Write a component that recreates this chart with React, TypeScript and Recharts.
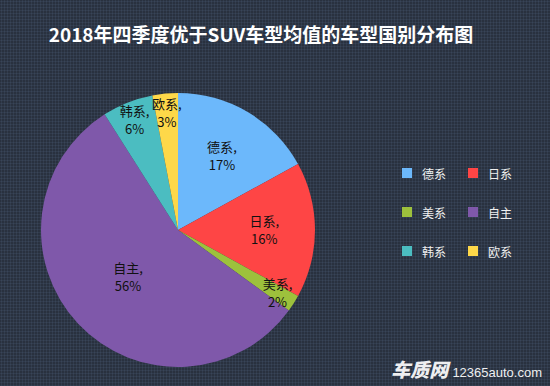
import React from "react";
import { PieChart, Pie, Cell } from "recharts";

const categories = ["德系", "日系", "美系", "自主", "韩系", "欧系"];
const shares = [17, 16, 2, 56, 6, 3];
const colors = ["#6cb8fb", "#fe4545", "#9dc13c", "#7f58aa", "#4bbdc1", "#fed849"];
const title = "2018年四季度优于SUV车型均值的车型国别分布图";

const data = categories.map((name, i) => ({ name, value: shares[i] }));

const RADIAN = Math.PI / 180;

const renderLabel = (props: any) => {
  const { cx, cy, midAngle, outerRadius, name, value } = props;
  const f = value >= 50 ? 0.5 : value >= 10 ? 0.63 : 0.86;
  const r = outerRadius * f;
  const x = cx + r * Math.cos(-midAngle * RADIAN);
  const y = cy + r * Math.sin(-midAngle * RADIAN);
  return (
    <text
      x={x}
      y={y}
      textAnchor="middle"
      fill="#111"
      fontSize={13}
      fontFamily="'Noto Sans CJK SC', sans-serif"
    >
      <tspan x={x} dy={-4}>{name},</tspan>
      <tspan x={x} dy={18}>{value}%</tspan>
    </text>
  );
};

export default function App() {
  return (
    <div
      style={{
        position: "relative",
        width: 550,
        height: 386,
        backgroundColor: "#29313f",
        backgroundImage:
          "radial-gradient(circle, rgba(70,85,110,0.55) 0.8px, transparent 1.2px)",
        backgroundSize: "3px 3px",
        overflow: "hidden",
      }}
    >
      <style>{`body{margin:0}`}</style>
      <div
        style={{
          position: "absolute",
          top: 19,
          left: -14,
          width: 550,
          textAlign: "center",
          color: "#ffffff",
          fontSize: 19,
          fontWeight: 700,
          fontFamily: "'Noto Sans CJK SC', sans-serif",
          lineHeight: "30px",
        }}
      >
        {title}
      </div>
      <div style={{ position: "absolute", top: 0, left: 0 }}>
        <PieChart width={550} height={386} margin={{ top: 0, right: 0, bottom: 0, left: 0 }}>
          <Pie
            data={data}
            dataKey="value"
            nameKey="name"
            cx={178}
            cy={230}
            outerRadius={137}
            startAngle={90}
            endAngle={-270}
            stroke="none"
            label={renderLabel}
            labelLine={false}
            isAnimationActive={false}
          >
            {data.map((d, i) => (
              <Cell key={d.name} fill={colors[i]} />
            ))}
          </Pie>
        </PieChart>
      </div>
      <div
        style={{
          position: "absolute",
          left: 402,
          top: 165,
          display: "grid",
          gridTemplateColumns: "66px 60px",
          rowGap: 23,
          fontFamily: "'Noto Sans CJK SC', sans-serif",
          fontSize: 12,
          color: "#f0f0f0",
        }}
      >
        {categories.map((c, i) => (
          <div key={c} style={{ display: "flex", alignItems: "center", height: 16 }}>
            <span
              style={{
                display: "inline-block",
                width: 10,
                height: 10,
                background: colors[i],
                marginRight: 10,
              }}
            />
            <span>{c}</span>
          </div>
        ))}
      </div>
      <div
        style={{
          position: "absolute",
          right: 8,
          bottom: 4,
          color: "#ffffff",
          fontFamily: "'Noto Sans CJK SC', sans-serif",
          display: "flex",
          alignItems: "baseline",
          opacity: 0.92,
        }}
      >
        <span style={{ fontSize: 19, fontWeight: 900, fontStyle: "italic", marginRight: 4 }}>车质网</span>
        <span style={{ fontSize: 13, fontFamily: "Arial, 'Liberation Sans', sans-serif" }}>12365auto.com</span>
      </div>
    </div>
  );
}
